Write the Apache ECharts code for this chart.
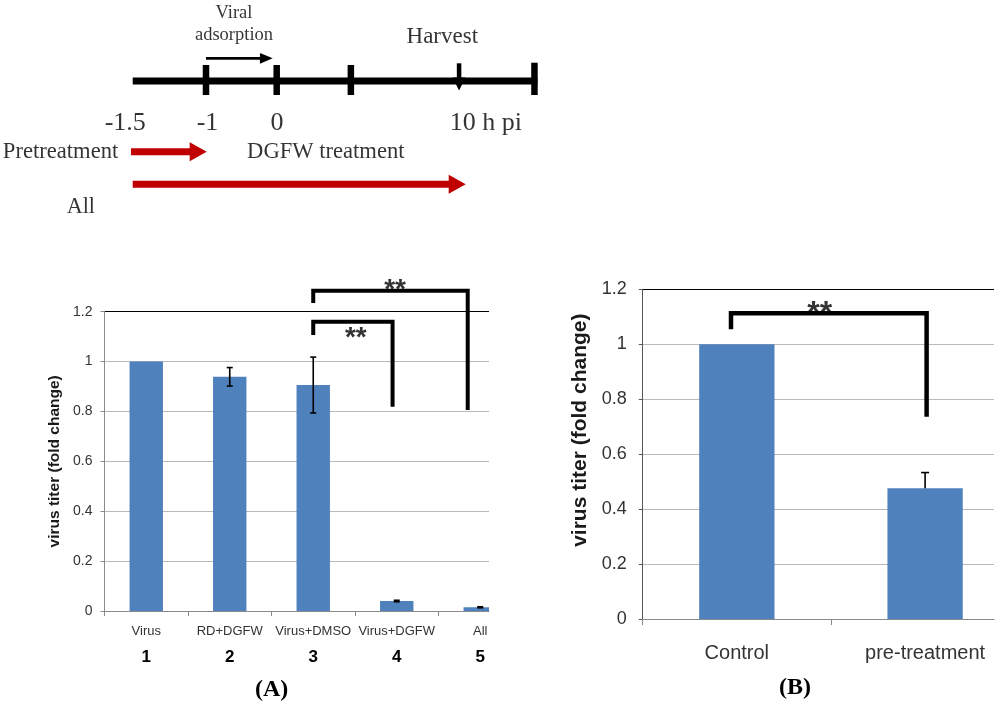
<!DOCTYPE html>
<html>
<head>
<meta charset="utf-8">
<title>DGFW virus titer</title>
<script src="https://cdn.jsdelivr.net/npm/echarts@6/dist/echarts.min.js"></script>
<style>
  html, body { margin: 0; padding: 0; background: #fff; }
  #chart { width: 1000px; height: 707px; }
</style>
</head>
<body>
<div id="chart"></div>
<script>
// ---- timeline (schematic slots, not real hours) ----
const tlStart = 0;
const tlEnd = 5.62;
const tlTicks = [1.018, 2.0, 3.03, 5.58];
const tlHarvest = 4.533;
const tlLabels = ['-1.5', '-1', '0', '10 h pi'];
const tlLabelSlots = [-0.103, 1.039, 2.004, 4.904];
const adsorbSpan = [1.018, 1.944];
const treatNames = ['Pretreatment', 'All'];
const treatStart = [-0.024, 0];
const treatEnd = [1.028, 4.625];

// ---- panel A ----
const catsA = ['Virus', 'RD+DGFW', 'Virus+DMSO', 'Virus+DGFW', 'All'];
const lanesA = ['1', '2', '3', '4', '5'];
const titerA = [1.0, 0.939, 0.906, 0.040, 0.015];
const errA = [0, 0.037, 0.112, 0.003, 0.002];
const bracketA1 = [[3, 1.235], [3, 1.284], [4.85, 1.284], [4.85, 0.806]];
const bracketA2 = [[3, 1.107], [3, 1.16], [3.95, 1.16], [3.95, 0.819]];
const starsA = [[3.98, 1.285], [3.51, 1.095]];

// ---- panel B ----
const catsB = ['Control', 'pre-treatment'];
const titerB = [1.0, 0.476];
const errB = [0, 0.057];
const bracketB = [[0.969, 1.055], [0.969, 1.113], [2.008, 1.113], [2.008, 0.736]];
const starsB = [[1.44, 1.11]];

const SANS = '"Liberation Sans", Arial, sans-serif';
const SERIF = '"Liberation Serif", "Times New Roman", serif';
const BLUE = '#4f81bd';
const GRID_GRAY = '#b8b8b8';
const TICKS_Y = [0, 0.2, 0.4, 0.6, 0.8, 1.0, 1.2];
const BAR_FRACTION = 0.4;

const TL_KINDS = [
  { color: '#000', width: 7, head: null },          // main line
  { color: '#000', width: 6.5, head: null },        // tick
  { color: '#000', width: 2.7, head: [12.7, 10.7] },// adsorption arrow
  { color: '#c00000', width: 7, head: [17, 19] },   // treatment arrow
  { color: '#000', width: 4.5, head: [13, 13] }     // harvest arrow
];

function renderSegment(params, api) {
  const kind = TL_KINDS[api.value(4)];
  const p1 = api.coord([api.value(0), api.value(1)]);
  const p2 = api.coord([api.value(2), api.value(3)]);
  const dx = p2[0] - p1[0];
  const dy = p2[1] - p1[1];
  const len = Math.sqrt(dx * dx + dy * dy) || 1;
  const ux = dx / len;
  const uy = dy / len;
  const children = [];
  let ex = p2[0];
  let ey = p2[1];
  if (kind.head) {
    const hl = kind.head[0];
    const hw = kind.head[1] / 2;
    ex = p2[0] - ux * (hl - 1);
    ey = p2[1] - uy * (hl - 1);
    const bx = p2[0] - ux * hl;
    const by = p2[1] - uy * hl;
    children.push({
      type: 'polygon',
      shape: { points: [[p2[0], p2[1]], [bx - uy * hw, by + ux * hw], [bx + uy * hw, by - ux * hw]] },
      style: { fill: kind.color }
    });
  }
  children.unshift({
    type: 'line',
    shape: { x1: p1[0], y1: p1[1], x2: ex, y2: ey },
    style: { stroke: kind.color, lineWidth: kind.width, lineCap: 'butt' }
  });
  return { type: 'group', children };
}

// bars drawn through the axes, cut off at the plot edge like the cropped original
function renderBar(params, api) {
  const x = api.value(0);
  const top = api.coord([x, api.value(1)]);
  const base = api.coord([x, 0]);
  const w = api.size([BAR_FRACTION, 0])[0];
  const rect = echarts.graphic.clipRectByRect(
    { x: top[0] - w / 2, y: top[1], width: w, height: base[1] - top[1] },
    { x: params.coordSys.x, y: params.coordSys.y, width: params.coordSys.width, height: params.coordSys.height }
  );
  if (!rect) return null;
  return { type: 'rect', shape: rect, style: { fill: BLUE } };
}

function errorBarRenderer(capWidth, plusOnly) {
  return function (params, api) {
    const x = api.value(0);
    const top = api.coord([x, api.value(2)]);
    const bot = api.coord([x, plusOnly ? api.value(3) : api.value(1)]);
    const half = capWidth / 2;
    const style = { stroke: '#000', lineWidth: 1.6 };
    const children = [
      { type: 'line', shape: { x1: top[0], y1: top[1], x2: bot[0], y2: bot[1] }, style },
      { type: 'line', shape: { x1: top[0] - half, y1: top[1], x2: top[0] + half, y2: top[1] }, style }
    ];
    if (!plusOnly) {
      children.push({ type: 'line', shape: { x1: bot[0] - half, y1: bot[1], x2: bot[0] + half, y2: bot[1] }, style });
    }
    return { type: 'group', children };
  };
}

function errorData(values, errs) {
  return values
    .map((v, i) => [i + 1, v - errs[i], v + errs[i], v])
    .filter((d, i) => errs[i] > 0);
}

function barSeries(values, axis) {
  return {
    type: 'custom',
    xAxisIndex: axis,
    yAxisIndex: axis,
    renderItem: renderBar,
    data: values.map((v, i) => [i + 1, v]),
    silent: true,
    z: 3
  };
}

function bracketSeries(data, axis, width) {
  return {
    type: 'line',
    xAxisIndex: axis,
    yAxisIndex: axis,
    data,
    symbol: 'none',
    clip: false,
    silent: true,
    z: 6,
    lineStyle: { color: '#000', width, join: 'miter', cap: 'butt' }
  };
}

function starSeries(data, axis, size) {
  return {
    type: 'scatter',
    xAxisIndex: axis,
    yAxisIndex: axis,
    data,
    symbolSize: 1,
    clip: false,
    silent: true,
    z: 7,
    itemStyle: { color: 'transparent' },
    label: {
      show: true,
      position: 'inside',
      formatter: '**',
      fontFamily: SANS,
      fontWeight: 'bold',
      fontSize: size,
      color: '#000'
    }
  };
}

function valueYAxis(grid, o) {
  return {
    gridIndex: grid,
    type: 'value',
    min: 0,
    max: 1.2,
    interval: 0.2,
    axisLine: { show: true, lineStyle: { color: o.axisColor, width: 1 } },
    axisTick: { show: true, length: 4, lineStyle: { color: o.axisColor } },
    axisLabel: { color: '#333', fontFamily: SANS, fontSize: o.labelSize, margin: o.labelMargin },
    splitLine: {
      lineStyle: { color: TICKS_Y.map((t, i) => (i === TICKS_Y.length - 1 ? '#000' : GRID_GRAY)), width: 1 }
    },
    name: 'virus titer (fold change)',
    nameLocation: 'middle',
    nameGap: o.nameGap,
    nameTextStyle: {
      fontFamily: SANS,
      fontWeight: 'bold',
      fontSize: o.nameSize,
      color: '#1a1a1a',
      padding: o.namePadding || 0
    }
  };
}

// timeline pieces, built from the arrays above
const tlSegments = [
  [tlStart, 81, tlEnd, 81, 0],
  ...tlTicks.map((s, i) => [s, i === tlTicks.length - 1 ? 62.7 : 65, s, 95, 1]),
  [tlHarvest, 63.3, tlHarvest, 90.5, 4],
  [adsorbSpan[0], 58.3, adsorbSpan[1], 58.3, 2],
  [treatStart[0], 151.7, treatEnd[0], 151.7, 3],
  [treatStart[1], 184.3, treatEnd[1], 184.3, 3]
];

const tlTexts = [
  ...tlLabels.map((t, i) => ({ value: [tlLabelSlots[i], 123.3], name: t, label: { fontSize: 26 } })),
  { value: [1.407, 24.2], name: 'Viral\nadsorption', label: { fontSize: 18.5, lineHeight: 21.7 } },
  { value: [4.30, 36.7], name: 'Harvest', label: { fontSize: 23 } },
  { value: [-0.2, 151.7], name: treatNames[0], label: { fontSize: 22.6, align: 'right' } },
  { value: [2.682, 151.7], name: 'DGFW treatment', label: { fontSize: 22.6 } },
  { value: [-0.72, 206.7], name: treatNames[1], label: { fontSize: 22.2 } }
];

const chart = echarts.init(document.getElementById('chart'), null, { renderer: 'canvas' });

chart.setOption({
  animation: false,
  backgroundColor: '#fff',
  grid: [
    { left: 3.1, top: 0, width: 547.2, height: 220 },
    { left: 104.5, top: 311.7, width: 384.5, height: 299.3 },
    { left: 642.7, top: 289.3, width: 351.3, height: 329.7 }
  ],
  xAxis: [
    { gridIndex: 0, type: 'value', min: -1.8, max: 5.8, show: false },
    {
      gridIndex: 1,
      type: 'value',
      min: 0.5,
      max: 5.105,
      axisLine: { lineStyle: { color: '#8a8a8a' } },
      axisTick: { show: true, length: 5, customValues: [0.5, 1.5, 2.5, 3.5, 4.5], lineStyle: { color: '#8a8a8a' } },
      splitLine: { show: false },
      axisLabel: {
        customValues: [1, 2, 3, 4, 5],
        margin: 12,
        formatter: (v) => {
          const i = Math.round(v) - 1;
          return '{n|' + catsA[i] + '}\n{d|' + lanesA[i] + '}';
        },
        rich: {
          n: { fontFamily: SANS, fontSize: 13, lineHeight: 16, color: '#333' },
          d: { fontFamily: SANS, fontSize: 17, fontWeight: 'bold', lineHeight: 36, color: '#000' }
        }
      }
    },
    {
      gridIndex: 2,
      type: 'value',
      min: 0.5,
      max: 2.366,
      axisLine: { lineStyle: { color: '#8a8a8a' } },
      axisTick: { show: true, length: 6, customValues: [0.5, 1.5], lineStyle: { color: '#8a8a8a' } },
      splitLine: { show: false },
      axisLabel: {
        customValues: [1, 2],
        margin: 24,
        fontFamily: SANS,
        fontSize: 20,
        color: '#333',
        formatter: (v) => catsB[Math.round(v) - 1]
      }
    }
  ],
  yAxis: [
    { gridIndex: 0, type: 'value', min: 0, max: 220, inverse: true, show: false },
    valueYAxis(1, { axisColor: '#8a8a8a', labelSize: 14, labelMargin: 12, nameSize: 15.5, nameGap: 42 }),
    valueYAxis(2, { axisColor: '#555', labelSize: 18, labelMargin: 16, nameSize: 21, nameGap: 52, namePadding: [0, 0, 0, 48] })
  ],
  series: [
    {
      type: 'custom',
      xAxisIndex: 0,
      yAxisIndex: 0,
      renderItem: renderSegment,
      data: tlSegments,
      silent: true
    },
    {
      type: 'scatter',
      xAxisIndex: 0,
      yAxisIndex: 0,
      data: tlTexts,
      symbolSize: 1,
      clip: false,
      silent: true,
      itemStyle: { color: 'transparent' },
      label: { show: true, position: 'inside', formatter: '{b}', fontFamily: SERIF, color: '#000' }
    },
    barSeries(titerA, 1),
    {
      type: 'custom',
      xAxisIndex: 1,
      yAxisIndex: 1,
      renderItem: errorBarRenderer(6, false),
      data: errorData(titerA, errA),
      z: 5,
      silent: true
    },
    bracketSeries(bracketA1, 1, 4),
    bracketSeries(bracketA2, 1, 4),
    starSeries(starsA, 1, 28),
    barSeries(titerB, 2),
    {
      type: 'custom',
      xAxisIndex: 2,
      yAxisIndex: 2,
      renderItem: errorBarRenderer(8, true),
      data: errorData(titerB, errB),
      z: 5,
      silent: true
    },
    bracketSeries(bracketB, 2, 4.5),
    starSeries(starsB, 2, 32)
  ],
  graphic: [
    {
      type: 'text',
      left: 255,
      top: 678,
      style: { text: '(A)', font: 'bold 24px ' + SERIF, fill: '#000' }
    },
    {
      type: 'text',
      left: 779,
      top: 676,
      style: { text: '(B)', font: 'bold 24px ' + SERIF, fill: '#000' }
    }
  ]
});
</script>
</body>
</html>
